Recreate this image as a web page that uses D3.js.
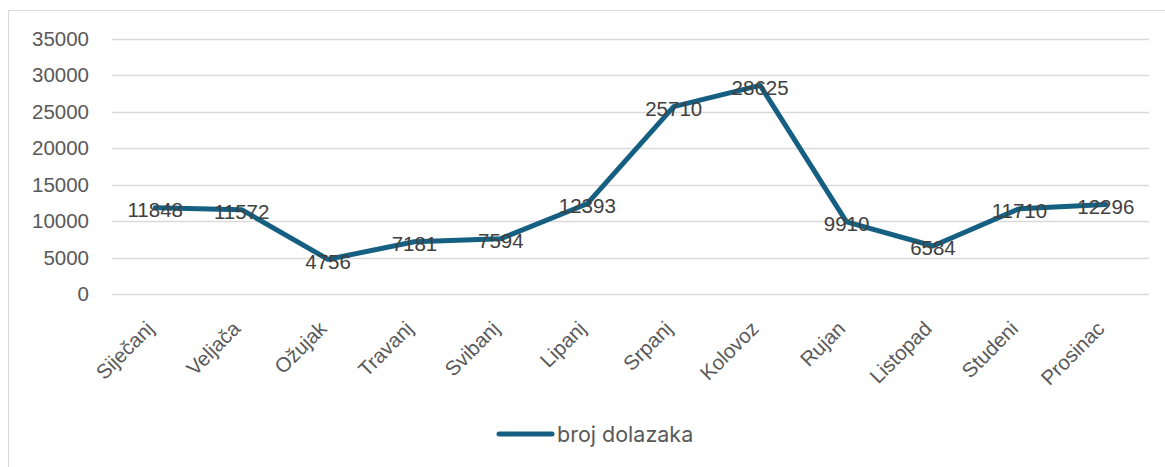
<!DOCTYPE html>
<html>
<head>
<meta charset="utf-8">
<script src="https://cdn.jsdelivr.net/npm/d3@7"></script>
<style>
  html, body { margin: 0; padding: 0; background: #fff; }
  svg { display: block; }
</style>
</head>
<body>
<div class="chart"></div>
<script>
const months = ['Siječanj', 'Veljača', 'Ožujak', 'Travanj', 'Svibanj', 'Lipanj',
  'Srpanj', 'Kolovoz', 'Rujan', 'Listopad', 'Studeni', 'Prosinac']
const arrivals = [11848, 11572, 4756, 7181, 7594, 12393, 25710, 28625, 9910, 6584, 11710, 12296]
const yTicks = [0, 5000, 10000, 15000, 20000, 25000, 30000, 35000]
const seriesName = 'broj dolazaka'

;(function draw() {
  const width = 1165
  const height = 467
  const lineColor = '#156082'

  const svg = d3.select('.chart')
    .append('svg')
    .attr('width', width)
    .attr('height', height)

  // chart area border
  svg.append('rect')
    .attr('x', 8.5)
    .attr('y', 10.5)
    .attr('width', width + 20)
    .attr('height', height + 20)
    .attr('fill', 'none')
    .attr('stroke', '#d9d9d9')

  const x = d3.scaleBand().domain(months).range([112, 1149])
  const y = d3.scaleLinear().domain([0, 35000]).range([294, 39])

  const grid = svg.append('g')
  grid.selectAll('line')
    .data(yTicks)
    .enter()
    .append('line')
    .attr('x1', 112)
    .attr('x2', 1149)
    .attr('y1', (d) => Math.round(y(d)) + 0.5)
    .attr('y2', (d) => Math.round(y(d)) + 0.5)
    .attr('stroke', '#d9d9d9')
    .attr('stroke-width', 1.3)

  const yAxis = svg.append('g')
    .attr('transform', 'translate(112,0)')
    .call(d3.axisLeft(y).tickValues(yTicks).tickSize(0).tickPadding(23).tickFormat(d3.format('d')))
  yAxis.select('.domain').remove()
  yAxis.selectAll('text')
    .attr('font-family', 'Liberation Sans, Arial, sans-serif')
    .attr('font-size', 20.5)
    .attr('fill', '#595959')

  const xAxis = svg.append('g')
    .attr('transform', 'translate(0,294)')
    .call(d3.axisBottom(x).tickSize(0).tickPadding(0))
  xAxis.select('.domain').remove()
  xAxis.selectAll('text')
    .attr('font-family', 'Liberation Sans, Arial, sans-serif')
    .attr('font-size', 20.5)
    .attr('fill', '#595959')
    .attr('text-anchor', 'end')
    .attr('dy', null)
    .attr('y', 0)
    .attr('transform', 'translate(0,36) rotate(-45)')

  const line = d3.line()
    .x((d, i) => x(months[i]) + x.bandwidth() / 2)
    .y((d) => y(d))

  svg.append('path')
    .datum(arrivals)
    .attr('d', line)
    .attr('fill', 'none')
    .attr('stroke', lineColor)
    .attr('stroke-width', 5)
    .attr('stroke-linejoin', 'round')
    .attr('stroke-linecap', 'round')

  svg.append('g')
    .selectAll('text')
    .data(arrivals)
    .enter()
    .append('text')
    .attr('x', (d, i) => x(months[i]) + x.bandwidth() / 2)
    .attr('y', (d) => y(d) + 2)
    .attr('dy', '0.35em')
    .attr('text-anchor', 'middle')
    .attr('font-family', 'Liberation Sans, Arial, sans-serif')
    .attr('font-size', 20.5)
    .attr('fill', '#404040')
    .text((d) => d)

  const legend = svg.append('g').attr('transform', 'translate(496,434)')
  legend.append('line')
    .attr('x1', 3)
    .attr('x2', 56)
    .attr('stroke', lineColor)
    .attr('stroke-width', 5)
    .attr('stroke-linecap', 'round')
  legend.append('text')
    .attr('x', 61)
    .attr('dy', '0.35em')
    .attr('font-family', 'Inter, Noto Sans, sans-serif')
    .attr('font-size', 21.5)
    .attr('fill', '#595959')
    .text(seriesName)
})()
</script>
</body>
</html>
